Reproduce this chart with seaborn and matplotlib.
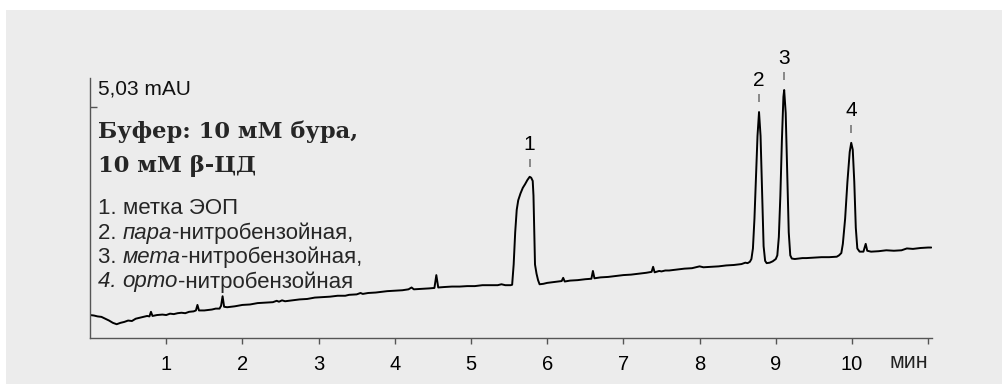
import matplotlib
matplotlib.use("Agg")
import matplotlib.pyplot as plt
from matplotlib.patches import Rectangle
from matplotlib.transforms import offset_copy
import seaborn as sns
import pandas as pd

# electropherogram trace, time in min, signal in mAU
time_min = [
    0.00, 0.05, 0.10, 0.15, 0.20, 0.25, 0.30, 0.35, 0.40, 0.45, 0.50, 0.55, 0.60, 0.65, 0.70,
    0.75, 0.78, 0.80, 0.82, 0.88, 0.95, 1.00, 1.05, 1.10, 1.15, 1.20, 1.25, 1.30, 1.36, 1.39,
    1.41, 1.43, 1.50, 1.55, 1.60, 1.65, 1.70, 1.72, 1.74, 1.76, 1.80, 1.85, 1.90, 2.00, 2.10,
    2.20, 2.30, 2.40, 2.45, 2.48, 2.52, 2.56, 2.65, 2.75, 2.85, 2.95, 3.05, 3.15, 3.25, 3.35,
    3.40, 3.50, 3.55, 3.58, 3.65, 3.75, 3.85, 3.90, 4.00, 4.10, 4.18, 4.22, 4.25, 4.35, 4.45,
    4.52, 4.545, 4.57, 4.65, 4.75, 4.85, 4.95, 5.05, 5.15, 5.25, 5.35, 5.40, 5.45, 5.52, 5.54,
    5.56, 5.58, 5.60, 5.62, 5.65, 5.68, 5.71, 5.74, 5.77, 5.79, 5.81, 5.82, 5.83, 5.84, 5.86,
    5.88, 5.90, 5.95, 6.00, 6.05, 6.10, 6.15, 6.19, 6.21, 6.23, 6.30, 6.40, 6.50, 6.58, 6.60,
    6.62, 6.70, 6.80, 6.90, 7.00, 7.10, 7.20, 7.30, 7.37, 7.39, 7.41, 7.47, 7.50, 7.55, 7.60,
    7.70, 7.80, 7.90, 8.00, 8.05, 8.15, 8.25, 8.35, 8.45, 8.55, 8.60, 8.63, 8.66, 8.68, 8.70,
    8.72, 8.74, 8.76, 8.78, 8.80, 8.82, 8.84, 8.86, 8.88, 8.92, 8.96, 9.00, 9.02, 9.04, 9.06,
    9.08, 9.10, 9.11, 9.13, 9.15, 9.17, 9.19, 9.21, 9.25, 9.30, 9.35, 9.40, 9.50, 9.60, 9.70,
    9.80, 9.83, 9.86, 9.88, 9.91, 9.94, 9.97, 9.99, 10.01, 10.03, 10.05, 10.07, 10.10, 10.15,
    10.18, 10.20, 10.25, 10.35, 10.45, 10.55, 10.65, 10.72, 10.80, 10.90, 11.00, 11.04,
]
signal_mau = [
    0.50, 0.49, 0.47, 0.46, 0.42, 0.38, 0.33, 0.30, 0.33, 0.35, 0.38, 0.37, 0.42, 0.44, 0.46,
    0.48, 0.47, 0.57, 0.48, 0.50, 0.51, 0.50, 0.53, 0.52, 0.54, 0.55, 0.54, 0.57, 0.58, 0.60,
    0.72, 0.60, 0.60, 0.61, 0.62, 0.64, 0.64, 0.70, 0.91, 0.68, 0.67, 0.68, 0.69, 0.72, 0.73,
    0.76, 0.77, 0.78, 0.81, 0.79, 0.82, 0.80, 0.82, 0.84, 0.85, 0.88, 0.89, 0.90, 0.92, 0.92,
    0.94, 0.95, 0.98, 0.96, 0.98, 0.99, 1.01, 1.02, 1.03, 1.04, 1.06, 1.10, 1.06, 1.07, 1.08,
    1.09, 1.37, 1.10, 1.11, 1.12, 1.12, 1.13, 1.13, 1.15, 1.15, 1.15, 1.17, 1.15, 1.15, 1.16,
    1.60, 2.30, 2.79, 3.00, 3.15, 3.27, 3.35, 3.44, 3.51, 3.49, 3.42, 3.10, 2.30, 1.60, 1.40,
    1.26, 1.17, 1.18, 1.20, 1.21, 1.22, 1.23, 1.24, 1.31, 1.23, 1.25, 1.26, 1.28, 1.29, 1.46,
    1.30, 1.32, 1.33, 1.35, 1.37, 1.38, 1.40, 1.42, 1.44, 1.55, 1.43, 1.46, 1.45, 1.47, 1.47,
    1.49, 1.51, 1.52, 1.56, 1.54, 1.55, 1.56, 1.58, 1.59, 1.61, 1.64, 1.63, 1.66, 1.72, 1.95,
    2.60, 3.50, 4.40, 4.92, 4.40, 3.20, 2.00, 1.68, 1.63, 1.64, 1.67, 1.72, 1.80, 2.20, 3.10,
    4.30, 5.25, 5.40, 4.90, 3.60, 2.30, 1.80, 1.73, 1.72, 1.73, 1.74, 1.74, 1.75, 1.76, 1.76,
    1.77, 1.80, 1.85, 2.05, 2.60, 3.40, 4.05, 4.25, 4.10, 3.40, 2.40, 1.95, 1.88, 1.88,
    2.05, 1.90, 1.88, 1.89, 1.91, 1.90, 1.91, 1.95, 1.94, 1.96, 1.97, 1.97,
]

peak_labels = ["1", "2", "3", "4"]
peak_times = [5.77, 8.78, 9.11, 9.99]
peak_heights = [3.51, 4.92, 5.40, 4.25]

x_ticks = [1, 2, 3, 4, 5, 6, 7, 8, 9, 10, 11]
x_tick_labels = ["1", "2", "3", "4", "5", "6", "7", "8", "9", "10", ""]
scale_value = 5.03

legend_lines = [
    ("1. ", "", "метка ЭОП"),
    ("2. ", "пара", "-нитробензойная,"),
    ("3. ", "мета", "-нитробензойная,"),
    ("4. ", "орто", "-нитробензойная"),
]

sns.set_theme(style="white")
plt.rcParams["font.family"] = ["Liberation Sans", "DejaVu Sans"]

W, H = 1003, 384
fig = plt.figure(figsize=(W / 100, H / 100), dpi=100, facecolor="white")
fig.patches.append(Rectangle((6 / W, 0), 1, (H - 10) / H, transform=fig.transFigure,
                             facecolor="#ececec", edgecolor="none", zorder=-10))

ax = fig.add_axes([90 / W, 46 / H, (932 - 90) / W, (338 - 20) / H])
ax.patch.set_alpha(0)

df = pd.DataFrame({"t": time_min, "v": signal_mau})
sns.lineplot(data=df, x="t", y="v", ax=ax, color="black", lw=1.4, estimator=None, sort=False)

ax.set_xlim(0, 11.05)
ax.set_ylim(0, (338 - 20) * scale_value / 231)
ax.set_xlabel("")
ax.set_ylabel("")

for side in ["top", "right"]:
    ax.spines[side].set_visible(False)
ax.spines["bottom"].set_color("#555555")
ax.spines["left"].set_color("#555555")
ax.spines["bottom"].set_linewidth(1.0)
ax.spines["left"].set_linewidth(1.0)
ax.spines["left"].set_bounds(0, (338 - 78) * scale_value / 231)

ax.set_xticks(x_ticks)
ax.set_xticklabels(x_tick_labels)
ax.tick_params(axis="x", bottom=True, direction="out", length=4, width=1, color="#555555",
               labelsize=14.5, pad=8, labelcolor="black")
ax.set_yticks([scale_value])
ax.set_yticklabels([""])
ax.tick_params(axis="y", left=True, direction="in", length=5, width=1, color="#555555")

ax.text(11.0, (338 - 363) / 318, "мин", transform=ax.get_xaxis_transform(), ha="right",
        va="center", fontsize=15.5, color="#222222")
ax.text(8 / 842, (338 - 89) / 318, "5,03 mAU", transform=ax.transAxes, ha="left",
        va="center", fontsize=15, color="#111111")

# peak labels with short grey dashes
dash_tr = offset_copy(ax.transData, fig=fig, x=0, y=14, units="dots")
for lab, t, h in zip(peak_labels, peak_times, peak_heights):
    ax.plot([t], [h], marker="|", markersize=6, mew=1.2, color="#777777", transform=dash_tr)
    ax.annotate(lab, (t, h), xytext=(0, 23), textcoords="offset points", ha="center",
                va="center", fontsize=15, color="black")

# title block
ax.text(8 / 842, (338 - 132) / 318, "Буфер: 10 мМ бура,", transform=ax.transAxes,
        ha="left", va="center", fontsize=16.3, fontweight="bold", family="DejaVu Serif")
ax.text(8 / 842, (338 - 166) / 318, "10 мМ β-ЦД", transform=ax.transAxes,
        ha="left", va="center", fontsize=16.3, fontweight="bold", family="DejaVu Serif")

# legend lines (italic prefix words)
y0 = 209
for i, (num, it, rest) in enumerate(legend_lines):
    yy = (338 - (y0 + i * 24.3)) / 318
    t1 = ax.text(8 / 842, yy, num, transform=ax.transAxes, ha="left", va="center",
                 fontsize=16, style="italic" if i == 3 else "normal")
    t2 = ax.annotate(it, xy=(1, 0.5), xycoords=t1, ha="left", va="center",
                     fontsize=16, style="italic")
    ax.annotate(rest, xy=(1, 0.5), xycoords=t2 if it else t1, ha="left", va="center",
                fontsize=16)

fig.savefig("out.png", dpi=100, facecolor="white")
